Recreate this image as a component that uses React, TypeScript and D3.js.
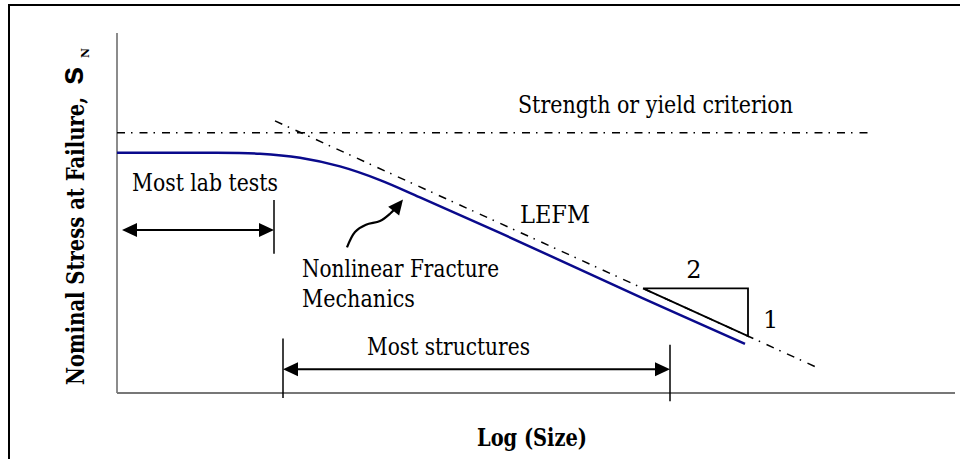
import React from 'react';
import * as d3 from 'd3';

const W = 960;
const H = 459;

// blue curve: log(size) vs log(nominal stress)
const curveSize = [0, 0.83, 1.43, 1.83, 2.23, 2.63, 3.03, 3.83, 5.26, 6.28];
const curveStress = [2.64, 2.64, 2.63, 2.585, 2.49, 2.34, 2.15, 1.76, 1.04, 0.54];

// strength criterion (horizontal) and LEFM asymptote (slope -1/2)
const strengthSize = [0, 7.53];
const strengthStress = [2.86, 2.86];
const lefmSize = [1.58, 7.0];
const lefmStress = [2.99, 0.28];

// slope triangle 2 : 1, sitting on the LEFM line
const slopeSize = [5.26, 6.31, 6.31, 5.26];
const slopeStress = [1.15, 1.15, 0.625, 1.15];

// ranges marked with double arrows
const labRange = [0.05, 1.57];
const labLevel = 1.79;
const structRange = [1.66, 5.53];
const structLevel = 0.26;

// curly pointer to the nonlinear part
const pointerSize = [2.3, 2.38, 2.49, 2.63, 2.73, 2.8];
const pointerStress = [1.6, 1.77, 1.85, 1.89, 1.97, 2.05];

const labels = ['Strength or yield criterion', 'Most lab tests', 'LEFM', 'Nonlinear Fracture', 'Mechanics', 'Most structures', '2', '1'];
const labelSize = [4.01, 0.15, 4.03, 1.85, 1.85, 2.5, 5.77, 6.46];
const labelStress = [3.08, 2.22, 1.87, 1.275, 0.945, 0.42, 1.26, 0.71];
const labelAnchor = ['start', 'start', 'start', 'start', 'start', 'start', 'middle', 'start'];
// rendered widths, so the wider serif face keeps the original text extents
const labelWidth = [275, 146, 70, 197, 113, 163, 0, 0];

const zip = (xs: number[], ys: number[]) => xs.map((x, i) => [x, ys[i]] as [number, number]);

const serif = "'DejaVu Serif', serif";

const App: React.FC = () => {
  const x = d3.scaleLinear().domain([0, 8.38]).range([117, 955]);
  const y = d3.scaleLinear().domain([0, 3.956]).range([393, 33]);

  const line = d3.line<[number, number]>().x(d => x(d[0])).y(d => y(d[1]));
  const smooth = d3.line<[number, number]>().x(d => x(d[0])).y(d => y(d[1])).curve(d3.curveCatmullRom);

  const dashDot = '8 6 1.5 7';

  // filled arrow head with its tip at (tx, ty) pointing along (dx, dy)
  const head = (tx: number, ty: number, dx: number, dy: number, len = 15, half = 7) => {
    const n = Math.hypot(dx, dy);
    const ux = dx / n, uy = dy / n;
    const bx = tx - ux * len, by = ty - uy * len;
    return `${tx},${ty} ${bx - uy * half},${by + ux * half} ${bx + uy * half},${by - ux * half}`;
  };

  const doubleArrow = (range: number[], level: number) => {
    const x0 = x(range[0]), x1 = x(range[1]), yy = y(level);
    return (
      <g>
        <line x1={x0 + 10} y1={yy} x2={x1 - 10} y2={yy} stroke="#000" strokeWidth={2} />
        <polygon points={head(x0, yy, -1, 0)} fill="#000" />
        <polygon points={head(x1, yy, 1, 0)} fill="#000" />
      </g>
    );
  };

  const pointer = zip(pointerSize, pointerStress);
  const pEnd = pointer[pointer.length - 1];
  const pPrev = pointer[pointer.length - 2];
  const tipX = x(pEnd[0]) + 6, tipY = y(pEnd[1]) - 7;

  return (
    <svg width={W} height={H} style={{ position: 'absolute', left: 0, top: 0 }}>
      {/* frame */}
      <line x1={8} y1={5} x2={W} y2={5} stroke="#000" strokeWidth={2} />
      <line x1={9} y1={5} x2={9} y2={H} stroke="#000" strokeWidth={2} />

      {/* axes */}
      <line x1={x(0)} y1={y.range()[1]} x2={x(0)} y2={y(0)} stroke="#666" strokeWidth={1.5} />
      <line x1={x(0)} y1={y(0)} x2={x.range()[1]} y2={y(0)} stroke="#777" strokeWidth={1.8} />

      <path d={line(zip(strengthSize, strengthStress)) || ''} fill="none" stroke="#000" strokeWidth={1.5} strokeDasharray={dashDot} />
      <path d={line(zip(lefmSize, lefmStress)) || ''} fill="none" stroke="#000" strokeWidth={1.5} strokeDasharray={dashDot} />

      <path d={smooth(zip(curveSize, curveStress)) || ''} fill="none" stroke="#0a0a8c" strokeWidth={2.5} />

      <path d={line(zip(slopeSize, slopeStress)) || ''} fill="none" stroke="#000" strokeWidth={1.8} />

      {doubleArrow(labRange, labLevel)}
      <line x1={x(labRange[1])} y1={y(2.12)} x2={x(labRange[1])} y2={y(1.53)} stroke="#000" strokeWidth={1.5} />

      {doubleArrow(structRange, structLevel)}
      <line x1={x(structRange[0])} y1={y(0.6)} x2={x(structRange[0])} y2={y(-0.055)} stroke="#000" strokeWidth={1.5} />
      <line x1={x(structRange[1])} y1={y(0.53)} x2={x(structRange[1])} y2={y(-0.09)} stroke="#000" strokeWidth={1.5} />

      <path d={smooth(pointer) || ''} fill="none" stroke="#000" strokeWidth={2.2} />
      <polygon points={head(tipX, tipY, x(pEnd[0]) - x(pPrev[0]) + 2, y(pEnd[1]) - y(pPrev[1]) - 4, 15, 7)} fill="#000" />

      {labels.map((t, i) => (
        <text key={t} x={x(labelSize[i])} y={y(labelStress[i])} textAnchor={labelAnchor[i] as any}
          textLength={labelWidth[i] || undefined} lengthAdjust={labelWidth[i] ? 'spacingAndGlyphs' : undefined}
          style={{ fontFamily: serif, fontSize: 24 }} fill="#000">{t}</text>
      ))}

      <text x={477} y={446} textLength={110} lengthAdjust="spacingAndGlyphs"
        style={{ fontFamily: serif, fontSize: 24, fontWeight: 'bold' }}>Log (Size)</text>

      <g transform="translate(84,385) rotate(-90)">
        <text x={0} y={0} textLength={288} lengthAdjust="spacingAndGlyphs"
          style={{ fontFamily: serif, fontSize: 24, fontWeight: 'bold' }}>Nominal Stress at Failure,</text>
        <text x={300} y={-1} style={{ fontFamily: "'Liberation Sans', Arial, sans-serif", fontSize: 33, fontWeight: 'bold' }}>s</text>
        <text x={327} y={5} style={{ fontFamily: serif, fontSize: 11, fontWeight: 'bold' }}>N</text>
      </g>
    </svg>
  );
};

export default App;
